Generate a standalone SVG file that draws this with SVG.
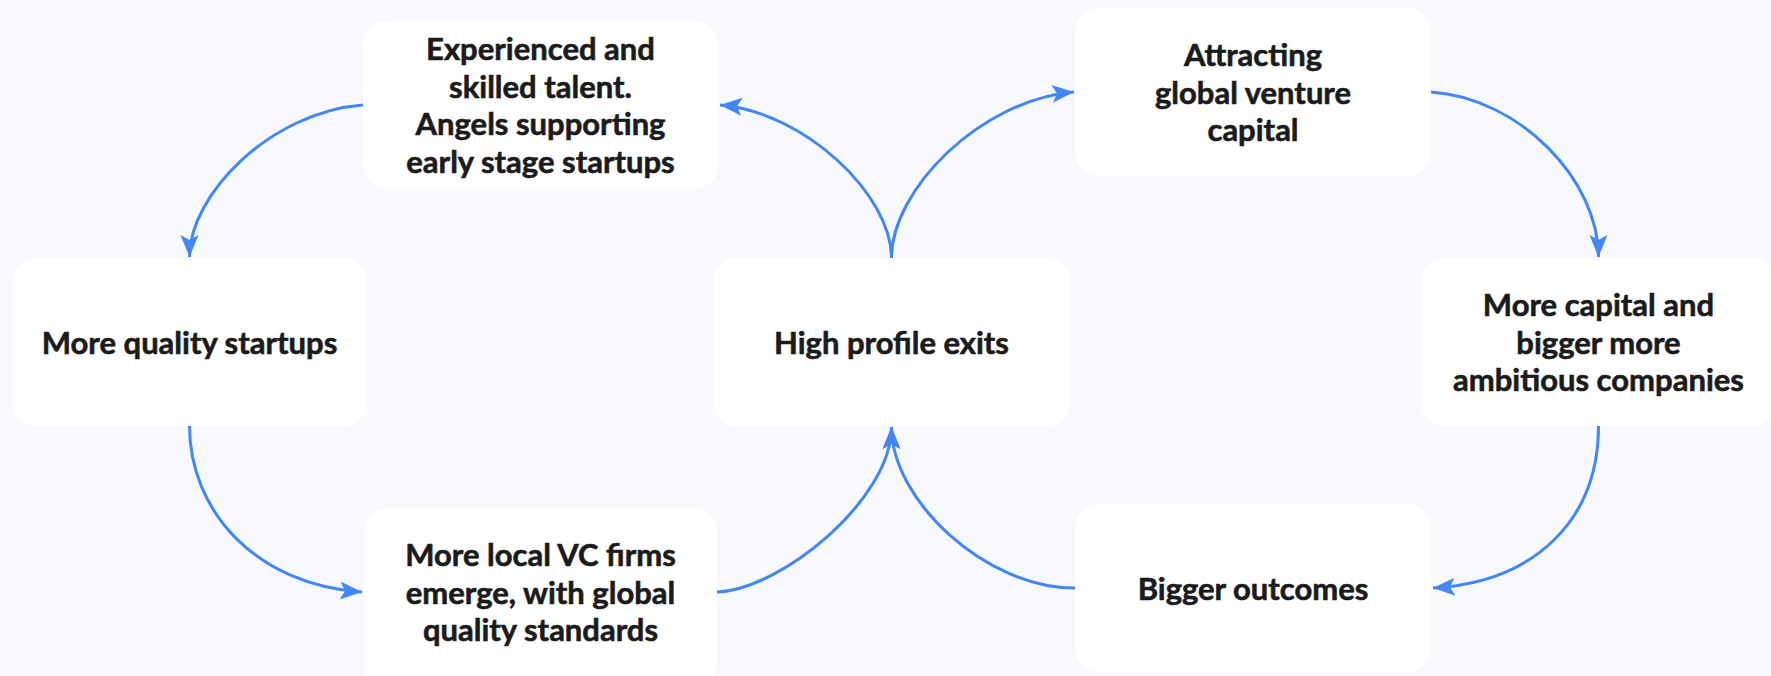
<svg xmlns="http://www.w3.org/2000/svg" width="1771" height="676" viewBox="0 0 1771 676">
<defs>
<style>
.bg{fill:#f7f9fd}
.box{fill:#ffffff}
.lbl{font-family:Lato,"Liberation Sans",sans-serif;font-weight:700;font-size:31px;fill:#1b1b1b;stroke:#1b1b1b;stroke-width:0.6px;text-anchor:middle}
.con{fill:none;stroke:#4386f5;stroke-width:3;marker-end:url(#ah)}
</style>
<marker id="ah" markerUnits="userSpaceOnUse" markerWidth="24" markerHeight="20" viewBox="0 0 24 20" refX="22" refY="10" orient="auto">
<path d="M22,10 L0,1 L5,10 L0,19 Z" fill="#4386f5"/>
</marker>
</defs>
<rect class="bg" x="0" y="0" width="1771" height="676"/>
<g id="nodes">
<g id="n-talent"><rect class="box" x="363" y="21" width="355" height="168" rx="24"/>
<text class="lbl" x="540.5" y="60">Experienced and</text>
<text class="lbl" x="540.5" y="97.7">skilled talent.</text>
<text class="lbl" x="540.5" y="135.4">Angels supporting</text>
<text class="lbl" x="540.5" y="173.1">early stage startups</text></g>
<g id="n-vc"><rect class="box" x="1075" y="8" width="356" height="168" rx="24"/>
<text class="lbl" x="1253" y="65.8">Attracting</text>
<text class="lbl" x="1253" y="103.5">global venture</text>
<text class="lbl" x="1253" y="141.2">capital</text></g>
<g id="n-startups"><rect class="box" x="12" y="258" width="355" height="168" rx="24"/>
<text class="lbl" x="189.5" y="353.5">More quality startups</text></g>
<g id="n-exits"><rect class="box" x="713" y="258" width="357" height="168" rx="24"/>
<text class="lbl" x="891.5" y="353.5">High profile exits</text></g>
<g id="n-capital"><rect class="box" x="1421" y="258" width="355" height="168" rx="24"/>
<text class="lbl" x="1598.5" y="315.8">More capital and</text>
<text class="lbl" x="1598.5" y="353.5">bigger more</text>
<text class="lbl" x="1598.5" y="391.2">ambitious companies</text></g>
<g id="n-local"><rect class="box" x="364" y="508" width="353" height="180" rx="24"/>
<text class="lbl" x="540.5" y="566">More local VC firms</text>
<text class="lbl" x="540.5" y="603.7">emerge, with global</text>
<text class="lbl" x="540.5" y="641.4">quality standards</text></g>
<g id="n-outcomes"><rect class="box" x="1075" y="504" width="356" height="168" rx="24"/>
<text class="lbl" x="1253" y="599.5">Bigger outcomes</text></g>
</g>
<g id="connectors">
<path class="con" d="M891.5,258 C891.5,195 805,112 720,105"/>
<path class="con" d="M891.5,258 C891.5,190 980,100 1074,92"/>
<path class="con" d="M363,105 C270,112 189.5,195 189.5,257"/>
<path class="con" d="M189.5,426 C189.5,510 255,585 362,592"/>
<path class="con" d="M717,592 C780,590 891.5,500 891.5,427"/>
<path class="con" d="M1075,588 C985,588 891.5,500 891.5,427"/>
<path class="con" d="M1431,92 C1520,98 1598.5,180 1598.5,257"/>
<path class="con" d="M1598.5,426 C1598.5,520 1535,582 1433,588"/>
</g>
</svg>
